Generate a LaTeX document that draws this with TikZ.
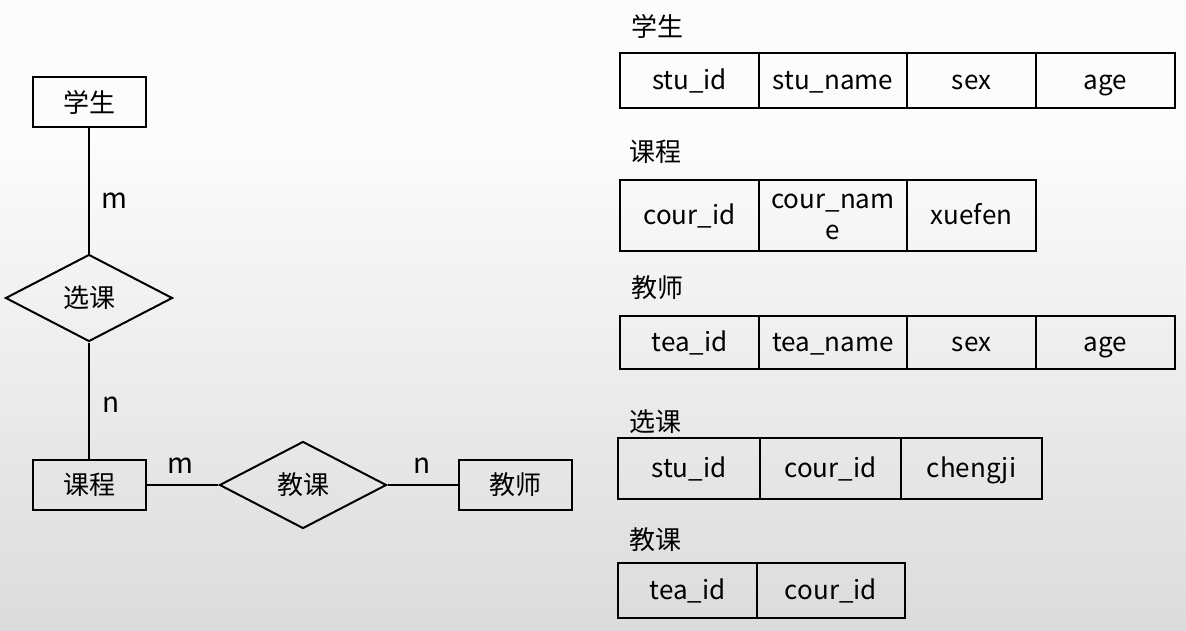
\documentclass[tikz,border=0pt]{standalone}
\usepackage{fontspec}
\setmainfont{Noto Sans CJK SC}
\usetikzlibrary{shapes.geometric,positioning}
\tikzset
{
    entity/.style   = {rectangle, draw=black, line width=2pt, align=center, minimum width=113pt, minimum height=50pt},
    relation/.style = {diamond, draw=black, line width=2pt, inner sep=0pt, minimum width=167pt, minimum height=87pt},
    cell/.style     = {rectangle, draw=black, line width=2pt, inner sep=0pt, align=center, text height=21pt, text depth=3pt, minimum height=#1},
    tabtitle/.style = {anchor=west, inner sep=0pt},
    card/.style     = {inner sep=0pt, font=\fontsize{28}{32}\selectfont},
    link/.style     = {line width=2pt}
}

\begin{document}
\begin{tikzpicture}[x=1pt, y=-1pt, font=\fontsize{26}{31}\selectfont]
		\useasboundingbox (0,0) rectangle (1186,630);
		\fill[black!1] (0,0) rectangle (1186,130);
		\shade[top color=black!1, bottom color=black!14] (0,130) rectangle (1186,630);
		% E-R diagram
		\node (stu)		[entity] 		at (89,102)		{学生};
		\node (xk)		[relation] 		at (89,298)		{选课};
		\node (cour)	[entity] 		at (89,485)		{课程};
		\node (jk)		[relation] 		at (303,485)	{教课};
		\node (tea)		[entity] 		at (515,485)	{教师};
		\draw[link] (stu) -- node[card, right=11pt, pos=0.58] (m1) {m} (xk);
		\draw[link] (xk) -- node[card, right=12pt, pos=0.53] (n1) {n} (cour);
		\draw[link] (cour) -- node[card, above=11pt, pos=0.47] (m2) {m} (jk);
		\draw[link] (jk) -- node[card, above=11pt, pos=0.5] (n2) {n} (tea);
		% tables
		\node (tstu)	[tabtitle]		at (631,26)		{学生};
		\node (s1)		[cell=55pt, minimum width=139pt]	at (689.5,80.5)		{stu\_id};
		\node (s2)		[cell=55pt, minimum width=148pt]	at (833,80.5)		{stu\_name};
		\node (s3)		[cell=55pt, minimum width=129pt]	at (971.5,80.5)		{sex};
		\node (s4)		[cell=55pt, minimum width=139pt]	at (1105.5,80.5)	{age};
		\node (tcour)	[tabtitle]		at (629,152)	{课程};
		\node (c1)		[cell=71pt, minimum width=139pt]	at (689.5,215.5)	{cour\_id};
		\node (c2)		[cell=71pt, minimum width=148pt, text height=49pt, text depth=1pt]	at (833,215.5)		{cour\_nam\\e};
		\node (c3)		[cell=71pt, minimum width=129pt]	at (971.5,215.5)	{xuefen};
		\node (ttea)	[tabtitle]		at (631,288)	{教师};
		\node (t1)		[cell=53pt, minimum width=139pt]	at (689.5,342.5)	{tea\_id};
		\node (t2)		[cell=53pt, minimum width=148pt]	at (833,342.5)		{tea\_name};
		\node (t3)		[cell=53pt, minimum width=129pt]	at (971.5,342.5)	{sex};
		\node (t4)		[cell=53pt, minimum width=139pt]	at (1105.5,342.5)	{age};
		\node (txk)		[tabtitle]		at (629,422)	{选课};
		\node (x1)		[cell=61pt, minimum width=142pt]	at (689,468.5)		{stu\_id};
		\node (x2)		[cell=61pt, minimum width=141pt]	at (830.5,468.5)	{cour\_id};
		\node (x3)		[cell=61pt, minimum width=141pt]	at (971.5,468.5)	{chengji};
		\node (tjk)		[tabtitle]		at (629,540)	{教课};
		\node (j1)		[cell=55pt, minimum width=139pt]	at (687.5,590.5)	{tea\_id};
		\node (j2)		[cell=55pt, minimum width=148pt]	at (831,590.5)		{cour\_id};
	\end{tikzpicture}
\end{document}
